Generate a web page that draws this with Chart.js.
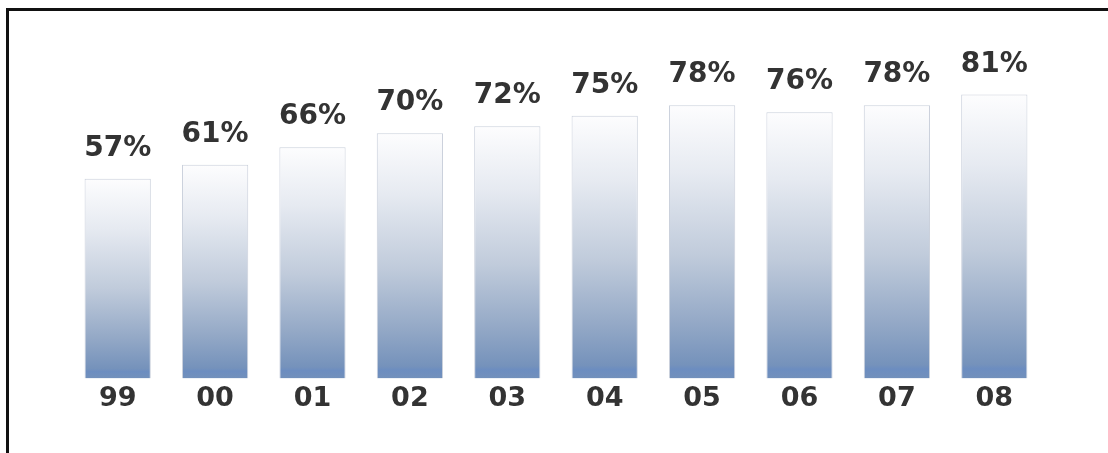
<!DOCTYPE html>
<html>
<head>
<meta charset="utf-8">
<script src="https://cdn.jsdelivr.net/npm/chart.js@4.4.1/dist/chart.umd.min.js"></script>
<style>
  html, body { margin: 0; padding: 0; background: #ffffff; }
  #wrap { position: relative; width: 1108px; height: 453px; overflow: hidden; }
  #frame {
    position: absolute; left: 6px; top: 8px; width: 1110px; height: 460px;
    border-top: 3px solid #111; border-left: 3px solid #111;
    box-sizing: border-box; pointer-events: none;
  }
  canvas { position: absolute; left: 0; top: 0; }
</style>
</head>
<body>
<div id="wrap">
  <canvas id="chart" width="1108" height="453"></canvas>
  <div id="frame"></div>
</div>
<script>
// Share by year, two-digit year labels
const years = ['99', '00', '01', '02', '03', '04', '05', '06', '07', '08'];
const shares = [57, 61, 66, 70, 72, 75, 78, 76, 78, 81];
const valueLabels = ['57%', '61%', '66%', '70%', '72%', '75%', '78%', '76%', '78%', '81%'];

const labelFont = { family: 'DejaVu Sans', size: 28, weight: 'bold' };
const tickFont = { family: 'DejaVu Sans', size: 27, weight: 'bold' };
const textColor = '#333333';

// Vertical white-to-steel-blue fill, spanning each bar from its top to the baseline
function barGradient(ctx) {
  const chart = ctx.chart;
  const yScale = chart.scales.y;
  if (!yScale || !ctx.parsed) return '#a9bad3';
  const top = yScale.getPixelForValue(ctx.parsed.y);
  const bottom = yScale.getPixelForValue(0);
  if (!isFinite(top) || !isFinite(bottom) || top === bottom) return '#a9bad3';
  const g = chart.ctx.createLinearGradient(0, top, 0, bottom);
  g.addColorStop(0, '#fdfdfe');
  g.addColorStop(0.25, '#e6eaf1');
  g.addColorStop(0.55, '#c0cbdb');
  g.addColorStop(0.8, '#93a8c6');
  g.addColorStop(0.95, '#7592bb');
  g.addColorStop(0.965, '#6c8dc0');
  g.addColorStop(1, '#7290bb');
  return g;
}

// Percentage text above each bar
const valueLabelPlugin = {
  id: 'valueLabels',
  afterDatasetsDraw(chart) {
    const ctx = chart.ctx;
    const meta = chart.getDatasetMeta(0);
    ctx.save();
    ctx.font = `${labelFont.weight} ${labelFont.size}px "${labelFont.family}"`;
    ctx.fillStyle = textColor;
    ctx.textAlign = 'center';
    ctx.textBaseline = 'alphabetic';
    meta.data.forEach((bar, i) => {
      ctx.fillText(valueLabels[i], bar.x, bar.y - 23);
    });
    ctx.restore();
  }
};

new Chart(document.getElementById('chart'), {
  type: 'bar',
  data: {
    labels: years,
    datasets: [{
      data: shares,
      backgroundColor: barGradient,
      borderColor: 'rgba(160,172,192,0.55)',
      borderWidth: { top: 1, left: 1, right: 1, bottom: 0 },
      borderSkipped: false,
      categoryPercentage: 1,
      barPercentage: 0.68
    }]
  },
  options: {
    responsive: false,
    animation: false,
    devicePixelRatio: 1,
    layout: { padding: { left: 69, right: 65, top: 28, bottom: 34 } },
    plugins: {
      legend: { display: false },
      tooltip: { enabled: false },
      title: { display: false }
    },
    scales: {
      x: {
        grid: { display: false, drawTicks: false },
        border: { display: false },
        ticks: { color: textColor, font: tickFont, padding: 4 }
      },
      y: {
        display: false,
        min: 0,
        max: 100
      }
    }
  },
  plugins: [valueLabelPlugin]
});
</script>
</body>
</html>
